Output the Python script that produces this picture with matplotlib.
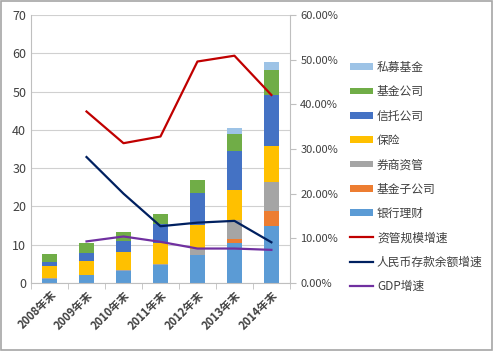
import numpy as np
import matplotlib
matplotlib.use('Agg')
import matplotlib.pyplot as plt
from matplotlib.ticker import FuncFormatter, FixedLocator

plt.rcParams['font.family'] = ['Noto Sans CJK SC', 'DejaVu Sans']
plt.rcParams['font.size'] = 8

# categories
years = ['2008年末', '2009年末', '2010年末', '2011年末', '2012年末', '2013年末', '2014年末']

# stacked bar segments (bottom to top)
bank_wmp = [1.1, 2.0, 3.2, 4.7, 7.2, 10.3, 15.0]      # 银行理财
fund_sub = [0.0, 0.0, 0.0, 0.0, 0.0, 1.1, 3.8]        # 基金子公司
securities = [0.1, 0.1, 0.2, 0.3, 1.7, 5.0, 7.6]      # 券商资管
insurance = [3.1, 3.6, 4.6, 5.3, 6.2, 7.9, 9.4]       # 保险
trust = [1.2, 2.0, 2.9, 5.2, 8.3, 10.1, 13.2]         # 信托公司
fund_co = [2.0, 2.6, 2.5, 2.4, 3.4, 4.5, 6.7]         # 基金公司
private_fund = [0.0, 0.0, 0.0, 0.0, 0.0, 1.7, 2.0]    # 私募基金

# growth lines (right axis), no value for 2008
aum_growth = [np.nan, 0.384, 0.313, 0.328, 0.496, 0.509, 0.421]
deposit_growth = [np.nan, 0.282, 0.200, 0.127, 0.135, 0.139, 0.091]
gdp_growth = [np.nan, 0.093, 0.104, 0.092, 0.077, 0.077, 0.074]

segments = [
    ('银行理财', bank_wmp, '#5B9BD5'),
    ('基金子公司', fund_sub, '#ED7D31'),
    ('券商资管', securities, '#A5A5A5'),
    ('保险', insurance, '#FFC000'),
    ('信托公司', trust, '#4472C4'),
    ('基金公司', fund_co, '#70AD47'),
    ('私募基金', private_fund, '#9DC3E6'),
]
lines = [
    ('资管规模增速', aum_growth, '#C00000'),
    ('人民币存款余额增速', deposit_growth, '#002060'),
    ('GDP增速', gdp_growth, '#7030A0'),
]

fig = plt.figure(figsize=(4.93, 3.51), dpi=100)
ax = fig.add_axes([0.063, 0.194, 0.525, 0.763])
ax2 = ax.twinx()

x = np.arange(len(years))
bottom = np.zeros(len(years))
bar_handles = []
for name, vals, color in segments:
    h = ax.bar(x, vals, width=0.4, bottom=bottom, color=color, label=name, zorder=2)
    bottom += np.array(vals)
    bar_handles.append(h)

line_handles = []
for name, vals, color in lines:
    l, = ax2.plot(x, vals, color=color, lw=1.6, label=name)
    line_handles.append(l)

ax.set_xlim(-0.5, len(years) - 0.5)
ax.set_ylim(0, 70)
ax.set_yticks(range(0, 71, 10))
ax2.set_ylim(0, 0.6)
ax2.set_yticks(np.arange(0, 0.61, 0.1))
ax2.yaxis.set_major_formatter(FuncFormatter(lambda v, p: f'{v * 100:.2f}%'))

ax.yaxis.grid(True, color='#D0D0D0', lw=0.8, zorder=0)
ax.set_axisbelow(True)

ax.set_xticks(x)
ax.set_xticklabels(years, rotation=45, ha='right', rotation_mode='anchor',
                   fontweight='bold', color='#404040')
ax.tick_params(axis='x', length=0, pad=4)
ax.xaxis.set_minor_locator(FixedLocator(np.arange(-0.5, len(years), 1.0)))
ax.tick_params(axis='x', which='minor', length=4, color='#BFBFBF')
ax.tick_params(axis='y', length=0, labelsize=9, colors='#404040')
ax2.tick_params(axis='y', length=4, color='#BFBFBF', labelsize=8, colors='#404040')

for a in (ax, ax2):
    a.spines['top'].set_visible(False)
    for s in ('left', 'right', 'bottom'):
        a.spines[s].set_color('#BFBFBF')
ax.spines['right'].set_visible(False)
ax2.spines['left'].set_visible(False)
ax2.spines['bottom'].set_visible(False)

handles = bar_handles[::-1] + line_handles
labels = [s[0] for s in segments[::-1]] + [l[0] for l in lines]
leg = fig.legend(handles, labels, loc='upper left', bbox_to_anchor=(0.7, 0.84),
                 frameon=False, fontsize=8.5, labelspacing=0.96, handlelength=2.0,
                 handleheight=0.5, handletextpad=0.3, borderaxespad=0)
for t in leg.get_texts():
    t.set_color('#404040')

# light frame around the picture
fig.patches.append(plt.Rectangle((0.002, 0.003), 0.996, 0.994, transform=fig.transFigure,
                                 fill=False, edgecolor='#A6A6A6', lw=1.2))

fig.savefig('out.png', dpi=100)
